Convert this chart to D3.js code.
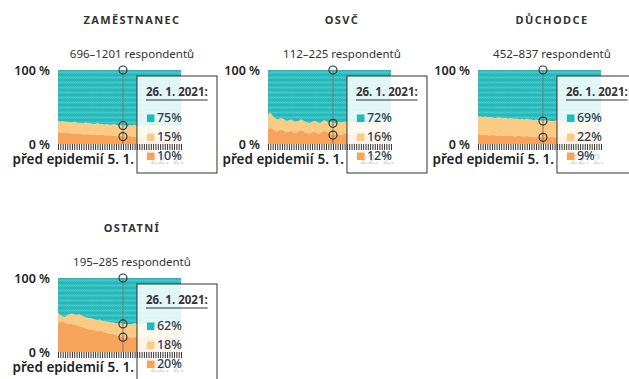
<!DOCTYPE html>
<html>
<head>
<meta charset="utf-8">
<script src="https://cdn.jsdelivr.net/npm/d3@7"></script>
<style>
  body { margin: 0; background: #fff; }
  svg { font-family: "Noto Sans", "Open Sans", sans-serif; display: block; }
</style>
</head>
<body>
<div id="chart"></div>
<script>
const titles = ["ZAMĚSTNANEC", "OSVČ", "DŮCHODCE", "OSTATNÍ"];
const respondents = ["696–1201 respondentů", "112–225 respondentů", "452–837 respondentů", "195–285 respondentů"];

const xTickIdx = [0, 27, 47];
const xTickText = ["před epidemií", "5. 1.", "22. 2."];
const yTickText = ["0 %", "100 %"];
const hoverIdx = 28;
const hoverDate = "26. 1. 2021:";

// shares in %, bottom band (orange) and middle band (light orange); teal is the rest
const zamOrange = [16,16,15,15,16,15,14,14,15,14, 14,13,13,14,13,13,12,13,12,12, 12,11,12,11,11,11,10,11,10,10, 10,11,10,10,9,10,10,10,9,10, 10,10,11,10,10,9,10,10,10,9, 10,10,10,10];
const zamLight  = [15,14,16,15,14,14,15,16,14,14, 14,15,16,14,15,14,15,15,15,15, 14,16,14,15,16,15,15,15,15,15, 14,15,15,16,15,14,15,15,16,15, 14,15,15,15,16,15,14,15,15,16, 15,15,14,15];

const osvcOrange = [20,22,21,18,17,19,20,18,16,17, 18,16,15,17,19,18,16,15,14,16, 17,15,14,16,18,17,15,14,12,13, 14,12,13,15,14,12,13,14,12,13, 12,14,13,12,13,14,12,13,12,14, 13,12,13,12];
const osvcLight  = [20,20,17,17,16,15,15,15,15,15, 15,15,15,14,14,14,14,14,14,14, 14,15,14,13,14,14,14,16,16,15, 16,17,16,15,16,17,16,15,17,16, 17,15,16,17,16,15,17,16,17,15, 16,17,16,16];

const ducOrange = [12,12,13,12,12,11,12,12,11,12, 11,11,12,11,11,11,10,11,11,10, 10,11,10,10,10,9,10,10,9,10, 9,9,10,9,9,10,9,9,9,10, 9,9,9,10,9,9,9,9,10,9, 9,9,9,9];
const ducLight  = [25,25,23,25,24,25,24,23,24,24, 24,24,23,23,24,23,24,23,22,24, 23,23,23,23,22,24,22,22,22,22, 23,22,21,22,23,22,22,23,22,21, 22,23,22,21,22,22,23,22,21,22, 22,22,23,22];

const ostOrange = [40,41,42,40,39,38,38,37,36,35, 34,33,32,31,30,30,29,28,29,28, 27,26,25,25,24,23,22,21,20,20, 21,20,19,20,21,20,19,20,21,20, 20,19,20,21,20,19,20,20,21,20, 19,20,20,21];
const ostLight  = [13,9,6,7,11,13,14,14,14,16, 16,15,15,15,16,15,15,15,15,14, 15,15,16,15,16,16,17,18,18,18, 17,17,19,19,17,17,19,18,18,18, 17,19,18,18,18,18,18,18,18,18, 19,17,18,17];

const orangeSeries = [zamOrange, osvcOrange, ducOrange, ostOrange];
const lightSeries = [zamLight, osvcLight, ducLight, ostLight];

const colors = {orange: "#f6a45c", light: "#fbcb84", teal: "#22b9ba"};
const keys = ["orange", "light", "teal"];

const W = 629, H = 379;
const svg = d3.select("#chart").append("svg").attr("width", W).attr("height", H);

const defs = svg.append("defs");
const N = zamOrange.length;
const plot = {left: 58, right: 181, top: 70, bottom: 144};
const x = d3.scaleLinear().domain([0, N - 1]).range([plot.left, plot.right]);
const y = d3.scaleLinear().domain([0, 100]).range([plot.bottom, plot.top]);
const step = x(1) - x(0);

const pat = defs.append("pattern")
  .attr("id", "dots")
  .attr("patternUnits", "userSpaceOnUse")
  .attr("x", plot.left).attr("y", plot.top)
  .attr("width", step).attr("height", 5);
pat.append("rect").attr("width", step).attr("height", 5).attr("fill", colors.teal);
pat.append("circle").attr("cx", step / 2).attr("cy", 2.5).attr("r", 0.8)
  .attr("fill", "none").attr("stroke", "#fff").attr("stroke-opacity", 0.35).attr("stroke-width", 0.5);

const stack = d3.stack().keys(keys);

titles.forEach((title, k) => {
  const ox = (k % 3) * 210, oy = Math.floor(k / 3) * 208;
  const g = svg.append("g").attr("transform", `translate(${ox},${oy})`);

  const rows = orangeSeries[k].map((o, i) => ({
    orange: o, light: lightSeries[k][i], teal: 100 - o - lightSeries[k][i]
  }));
  const series = stack(rows);

  g.append("text").attr("x", 132).attr("y", 24).attr("text-anchor", "middle")
    .attr("font-size", 11).attr("font-weight", 700).attr("letter-spacing", 1.4)
    .attr("fill", "#333").text(title);

  g.append("text").attr("x", 132).attr("y", 58).attr("text-anchor", "middle")
    .attr("font-size", 11.5).attr("fill", "#333").text(respondents[k]);

  const area = d3.area()
    .x((d, i) => x(i))
    .y0(d => y(d[0]))
    .y1(d => y(d[1]));

  g.selectAll(".band")
    .data(series)
    .enter()
    .append("path")
    .attr("class", "band")
    .attr("d", area)
    .attr("fill", d => d.key === "teal" ? "url(#dots)" : colors[d.key]);

  // y labels
  g.append("text").attr("x", 50).attr("y", y(100)).attr("dy", "0.38em")
    .attr("text-anchor", "end").attr("font-size", 12.5).attr("font-weight", 600)
    .attr("fill", "#222").text(yTickText[1]);
  g.append("text").attr("x", 50).attr("y", y(0)).attr("dy", "0.38em")
    .attr("text-anchor", "end").attr("font-size", 12.5).attr("font-weight", 600)
    .attr("fill", "#222").text(yTickText[0]);

  // x labels
  g.selectAll(".xl")
    .data(xTickIdx)
    .enter()
    .append("text")
    .attr("class", "xl")
    .attr("x", d => x(d))
    .attr("y", 164)
    .attr("text-anchor", "middle")
    .attr("font-size", 13.5).attr("font-weight", 600)
    .attr("fill", "#222")
    .text((d, i) => xTickText[i]);

  // hover line and circles
  const hx = x(hoverIdx);
  g.append("line").attr("x1", hx).attr("x2", hx).attr("y1", y(100)).attr("y2", y(0))
    .attr("stroke", "#777").attr("stroke-width", 1);
  const hr = rows[hoverIdx];
  [100, hr.orange + hr.light, hr.orange].forEach(v => {
    g.append("circle").attr("cx", hx).attr("cy", y(v)).attr("r", 4)
      .attr("fill", "none").attr("stroke", "#333").attr("stroke-width", 1.2);
  });

  // tooltip box
  const bx = hx + 14, by = plot.top + 6, bw = 80, bh = 97;
  g.append("rect").attr("x", bx).attr("y", by).attr("width", bw).attr("height", bh)
    .attr("fill", "#fff").attr("fill-opacity", 0.86)
    .attr("stroke", "#333").attr("stroke-width", 1);

  // ticks
  g.append("g")
    .attr("transform", `translate(0,${plot.bottom})`)
    .call(d3.axisBottom(x).tickValues(d3.range(N)).tickSize(6).tickFormat(""))
    .call(a => a.select(".domain").remove())
    .call(a => a.selectAll("line").attr("stroke", "#333"));

  const dt = g.append("text").attr("x", bx + 9).attr("y", by + 20)
    .attr("font-size", 11.5).attr("font-weight", 700).attr("fill", "#333").text(hoverDate);
  const tw = dt.node().getComputedTextLength();
  g.append("line").attr("x1", bx + 9).attr("x2", bx + 9 + tw)
    .attr("y1", by + 24).attr("y2", by + 24).attr("stroke", "#333").attr("stroke-width", 1);

  ["teal", "light", "orange"].forEach((key, j) => {
    const base = by + 46 + j * 19;
    g.append("rect").attr("x", bx + 10).attr("y", base - 7.5).attr("width", 7.5).attr("height", 7.5)
      .attr("fill", colors[key]);
    g.append("text").attr("x", bx + 20).attr("y", base)
      .attr("font-size", 12.5).attr("font-weight", 500).attr("fill", "#2e3d4d")
      .text(hr[key] + "%");
  });
});
</script>
</body>
</html>
